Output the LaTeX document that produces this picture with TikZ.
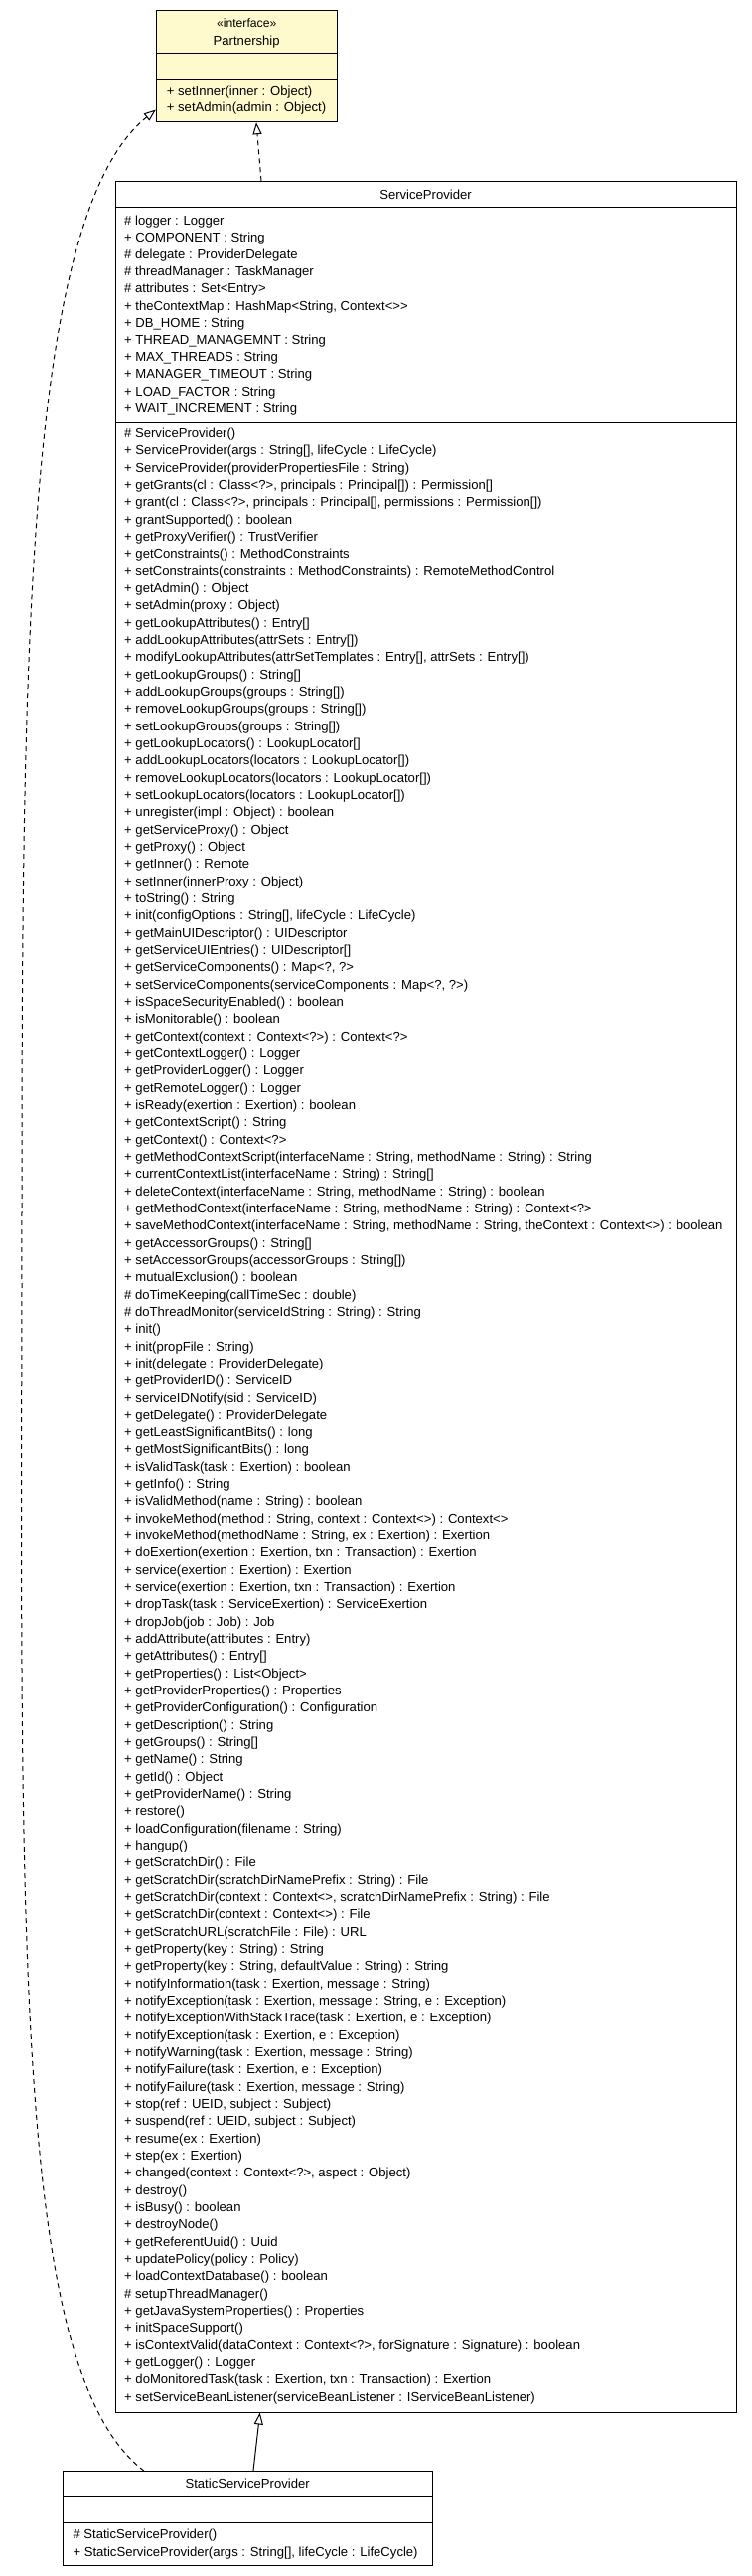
\documentclass[tikz,border=0pt]{standalone}
\usepackage{fontspec}
\setmainfont{Liberation Sans}
\usetikzlibrary{positioning,arrows.meta}
\tikzset{>=latex}
\definecolor{ifacefill}{RGB}{255,250,205}
\tikzset{
  umlbox/.style={rectangle,draw=black,line width=1pt,inner sep=0pt},
  member/.style={anchor=base west,inner sep=0pt,font=\fontsize{13.1pt}{15pt}\selectfont},
  classname/.style={anchor=base,inner sep=0pt,font=\fontsize{13.1pt}{15pt}\selectfont},
  realizes/.style={dash pattern=on 5pt off 4pt,line width=1pt,-{Triangle[open,length=12pt,width=9pt]}},
  extends/.style={line width=1pt,-{Triangle[open,length=12pt,width=9pt]}}
}

\begin{document}
\begin{tikzpicture}[x=1pt,y=-1pt]
\useasboundingbox (0,0) rectangle (757,2592);

% interface Partnership
\node[umlbox,fill=ifacefill,minimum width=181.7pt,minimum height=112.7pt] (partner) at(248.2,66.35){};
\draw[line width=1pt] ([yshift=-44.3pt]partner.north west) -- ([yshift=-44.3pt]partner.north east);
\draw[line width=1pt] ([yshift=-70pt]partner.north west) -- ([yshift=-70pt]partner.north east);
\node[classname,font=\fontsize{12.2pt}{13pt}\selectfont] (partnerst) at(248.2,27.5){«interface»};
\node[classname] (partnername) at(248.2,45){Partnership};
\node[member] (partnerm1) at(167.7,96){+ setInner(inner : Object)};
\node[member] (partnerm2) at(167.7,112.6){+ setAdmin(admin : Object)};

% class ServiceProvider
\node[umlbox,minimum width=625pt,minimum height=2244.3pt] (provider) at(428.5,1304.85){};
\draw[line width=1pt] ([yshift=-25.8pt]provider.north west) -- ([yshift=-25.8pt]provider.north east);
\draw[line width=1pt] ([yshift=-243.3pt]provider.north west) -- ([yshift=-243.3pt]provider.north east);
\node[classname] (providername) at(428.5,200.5){ServiceProvider};
\foreach \txt [count=\i] in {
{\# logger : Logger},
{+ COMPONENT : String},
{\# delegate : ProviderDelegate},
{\# threadManager : TaskManager},
{\# attributes : Set<Entry>},
{+ theContextMap : HashMap<String, Context<>{}>},
{+ DB\_HOME : String},
{+ THREAD\_MANAGEMNT : String},
{+ MAX\_THREADS : String},
{+ MANAGER\_TIMEOUT : String},
{+ LOAD\_FACTOR : String},
{+ WAIT\_INCREMENT : String}}
  \node[member] (spa\i) at(125,{226+17.2*(\i-1)}){\txt};
\foreach \txt [count=\i] in {
{\# ServiceProvider()},
{+ ServiceProvider(args : String[], lifeCycle : LifeCycle)},
{+ ServiceProvider(providerPropertiesFile : String)},
{+ getGrants(cl : Class<?>, principals : Principal[]) : Permission[]},
{+ grant(cl : Class<?>, principals : Principal[], permissions : Permission[])},
{+ grantSupported() : boolean},
{+ getProxyVerifier() : TrustVerifier},
{+ getConstraints() : MethodConstraints},
{+ setConstraints(constraints : MethodConstraints) : RemoteMethodControl},
{+ getAdmin() : Object},
{+ setAdmin(proxy : Object)},
{+ getLookupAttributes() : Entry[]},
{+ addLookupAttributes(attrSets : Entry[])},
{+ modifyLookupAttributes(attrSetTemplates : Entry[], attrSets : Entry[])},
{+ getLookupGroups() : String[]},
{+ addLookupGroups(groups : String[])},
{+ removeLookupGroups(groups : String[])},
{+ setLookupGroups(groups : String[])},
{+ getLookupLocators() : LookupLocator[]},
{+ addLookupLocators(locators : LookupLocator[])},
{+ removeLookupLocators(locators : LookupLocator[])},
{+ setLookupLocators(locators : LookupLocator[])},
{+ unregister(impl : Object) : boolean},
{+ getServiceProxy() : Object},
{+ getProxy() : Object},
{+ getInner() : Remote},
{+ setInner(innerProxy : Object)},
{+ toString() : String},
{+ init(configOptions : String[], lifeCycle : LifeCycle)},
{+ getMainUIDescriptor() : UIDescriptor},
{+ getServiceUIEntries() : UIDescriptor[]},
{+ getServiceComponents() : Map<?, ?>},
{+ setServiceComponents(serviceComponents : Map<?, ?>)},
{+ isSpaceSecurityEnabled() : boolean},
{+ isMonitorable() : boolean},
{+ getContext(context : Context<?>) : Context<?>},
{+ getContextLogger() : Logger},
{+ getProviderLogger() : Logger},
{+ getRemoteLogger() : Logger},
{+ isReady(exertion : Exertion) : boolean},
{+ getContextScript() : String},
{+ getContext() : Context<?>},
{+ getMethodContextScript(interfaceName : String, methodName : String) : String},
{+ currentContextList(interfaceName : String) : String[]},
{+ deleteContext(interfaceName : String, methodName : String) : boolean},
{+ getMethodContext(interfaceName : String, methodName : String) : Context<?>},
{+ saveMethodContext(interfaceName : String, methodName : String, theContext : Context<>) : boolean},
{+ getAccessorGroups() : String[]},
{+ setAccessorGroups(accessorGroups : String[])},
{+ mutualExclusion() : boolean},
{\# doTimeKeeping(callTimeSec : double)},
{\# doThreadMonitor(serviceIdString : String) : String},
{+ init()},
{+ init(propFile : String)},
{+ init(delegate : ProviderDelegate)},
{+ getProviderID() : ServiceID},
{+ serviceIDNotify(sid : ServiceID)},
{+ getDelegate() : ProviderDelegate},
{+ getLeastSignificantBits() : long},
{+ getMostSignificantBits() : long},
{+ isValidTask(task : Exertion) : boolean},
{+ getInfo() : String},
{+ isValidMethod(name : String) : boolean},
{+ invokeMethod(method : String, context : Context<>) : Context<>},
{+ invokeMethod(methodName : String, ex : Exertion) : Exertion},
{+ doExertion(exertion : Exertion, txn : Transaction) : Exertion},
{+ service(exertion : Exertion) : Exertion},
{+ service(exertion : Exertion, txn : Transaction) : Exertion},
{+ dropTask(task : ServiceExertion) : ServiceExertion},
{+ dropJob(job : Job) : Job},
{+ addAttribute(attributes : Entry)},
{+ getAttributes() : Entry[]},
{+ getProperties() : List<Object>},
{+ getProviderProperties() : Properties},
{+ getProviderConfiguration() : Configuration},
{+ getDescription() : String},
{+ getGroups() : String[]},
{+ getName() : String},
{+ getId() : Object},
{+ getProviderName() : String},
{+ restore()},
{+ loadConfiguration(filename : String)},
{+ hangup()},
{+ getScratchDir() : File},
{+ getScratchDir(scratchDirNamePrefix : String) : File},
{+ getScratchDir(context : Context<>, scratchDirNamePrefix : String) : File},
{+ getScratchDir(context : Context<>) : File},
{+ getScratchURL(scratchFile : File) : URL},
{+ getProperty(key : String) : String},
{+ getProperty(key : String, defaultValue : String) : String},
{+ notifyInformation(task : Exertion, message : String)},
{+ notifyException(task : Exertion, message : String, e : Exception)},
{+ notifyExceptionWithStackTrace(task : Exertion, e : Exception)},
{+ notifyException(task : Exertion, e : Exception)},
{+ notifyWarning(task : Exertion, message : String)},
{+ notifyFailure(task : Exertion, e : Exception)},
{+ notifyFailure(task : Exertion, message : String)},
{+ stop(ref : UEID, subject : Subject)},
{+ suspend(ref : UEID, subject : Subject)},
{+ resume(ex : Exertion)},
{+ step(ex : Exertion)},
{+ changed(context : Context<?>, aspect : Object)},
{+ destroy()},
{+ isBusy() : boolean},
{+ destroyNode()},
{+ getReferentUuid() : Uuid},
{+ updatePolicy(policy : Policy)},
{+ loadContextDatabase() : boolean},
{\# setupThreadManager()},
{+ getJavaSystemProperties() : Properties},
{+ initSpaceSupport()},
{+ isContextValid(dataContext : Context<?>, forSignature : Signature) : boolean},
{+ getLogger() : Logger},
{+ doMonitoredTask(task : Exertion, txn : Transaction) : Exertion},
{+ setServiceBeanListener(serviceBeanListener : IServiceBeanListener)}}
  \node[member] (spm\i) at(125,{440.5+17.33*(\i-1)}){\txt};

% class StaticServiceProvider
\node[umlbox,minimum width=371.7pt,minimum height=94.3pt] (staticprov) at(249.15,2533.85){};
\draw[line width=1pt] ([yshift=-26pt]staticprov.north west) -- ([yshift=-26pt]staticprov.north east);
\draw[line width=1pt] ([yshift=-52.3pt]staticprov.north west) -- ([yshift=-52.3pt]staticprov.north east);
\node[classname] (staticprovname) at(249.15,2503.5){StaticServiceProvider};
\node[member] (sspm1) at(73.3,2554.5){\# StaticServiceProvider()};
\node[member] (sspm2) at(73.3,2572){+ StaticServiceProvider(args : String[], lifeCycle : LifeCycle)};

% relations
\draw[realizes] ([xshift=-165.5pt]provider.north) -- ([xshift=9.8pt]partner.south);
\draw[extends] ([xshift=5.8pt]staticprov.north) -- ([xshift=-166.8pt]provider.south);
\draw[realizes] ([xshift=-104.2pt]staticprov.north) .. controls (20,2390) and (20,2000) .. (22,1300)
   .. controls (22,700) and (20,220) .. ([yshift=12.7pt]partner.south west);

\end{tikzpicture}
\end{document}
